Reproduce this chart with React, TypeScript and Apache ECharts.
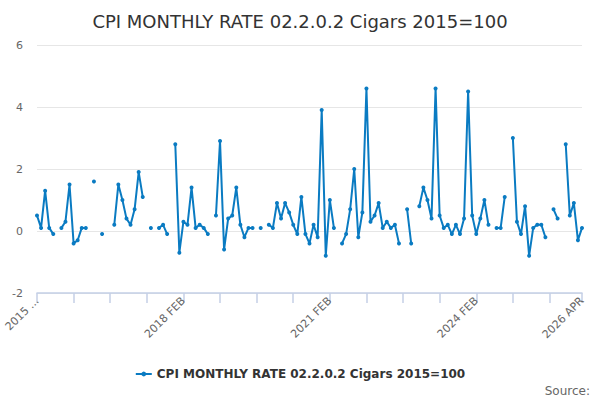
import React, { useEffect, useRef } from "react";
import * as echarts from "echarts";

const TITLE = "CPI MONTHLY RATE 02.2.0.2 Cigars 2015=100";
const SERIES_NAME = "CPI MONTHLY RATE 02.2.0.2 Cigars 2015=100";
const MONTHS = ["JAN", "FEB", "MAR", "APR", "MAY", "JUN", "JUL", "AUG", "SEP", "OCT", "NOV", "DEC"];
const START_YEAR = 2015;
const START_MONTH = 1; // FEB (0-based)

// Monthly rate values, 2015 FEB .. 2026 APR (null = no data)
const values: (number | null)[] = [
  0.5, 0.1, 1.3, 0.1, -0.1, null, 0.1, 0.3, 1.5, -0.4, -0.3, 0.1,
  0.1, null, 1.6, null, -0.1, null, null, 0.2, 1.5, 1.0, 0.4, 0.2,
  0.7, 1.9, 1.1, null, 0.1, null, 0.1, 0.2, -0.1, null, 2.8, -0.7,
  0.3, 0.2, 1.4, 0.1, 0.2, 0.1, -0.1, null, 0.5, 2.9, -0.6, 0.4,
  0.5, 1.4, 0.2, -0.2, 0.1, 0.1, null, 0.1, null, 0.2, 0.1, 0.9,
  0.4, 0.9, 0.6, 0.2, -0.1, 1.1, -0.1, -0.4, 0.2, -0.2, 3.9, -0.8,
  1.0, 0.1, null, -0.4, -0.1, 0.7, 2.0, -0.2, 0.6, 4.6, 0.3, 0.5,
  0.9, 0.1, 0.3, 0.1, 0.2, -0.4, null, 0.7, -0.4, null, 0.8, 1.4,
  1.0, 0.4, 4.6, 0.5, 0.1, 0.2, -0.1, 0.2, -0.1, 0.4, 4.5, 0.5,
  -0.1, 0.4, 1.0, 0.2, null, 0.1, 0.1, 1.1, null, 3.0, 0.3, -0.1,
  0.8, -0.8, 0.1, 0.2, 0.2, -0.2, null, 0.7, 0.4, null, 2.8, 0.5,
  0.9, -0.3, 0.1,
];

const categories: string[] = values.map((_, i) => {
  const m = START_MONTH + i;
  return `${START_YEAR + Math.floor(m / 12)} ${MONTHS[m % 12]}`;
});

const Y_MIN = -2;
const Y_MAX = 6;
const Y_STEP = 2;
const LABEL_EVERY = 36;
const TICK_EVERY = 9;

export default function App() {
  const ref = useRef<HTMLDivElement>(null);
  useEffect(() => {
    if (!ref.current) return;
    const chart = echarts.init(ref.current, undefined, { renderer: "svg" });
    const last = categories.length - 1;
    chart.setOption({
      animation: false,
      backgroundColor: "#ffffff",
      textStyle: { fontFamily: "DejaVu Sans" },
      title: {
        text: TITLE,
        left: "center",
        top: 7,
        textStyle: { fontSize: 18, fontWeight: "normal", color: "#333333", fontFamily: "DejaVu Sans" },
      },
      legend: {
        bottom: 15,
        left: "center",
        itemWidth: 16,
        itemHeight: 6,
        itemGap: 5,
        data: [SERIES_NAME],
        textStyle: { fontSize: 12, fontWeight: "bold", color: "#333333", fontFamily: "DejaVu Sans" },
      },
      graphic: [
        {
          type: "text",
          right: 10,
          bottom: 3,
          style: { text: "Source:", fontSize: 12, fill: "#666666", fontFamily: "DejaVu Sans" },
        },
      ],
      grid: { left: 37, right: 18, top: 45, bottom: 107, containLabel: false },
      xAxis: {
        type: "category",
        data: categories,
        boundaryGap: false,
        axisLine: { show: true, onZero: false, lineStyle: { color: "#c4cfe6", width: 1.5 } },
        axisTick: {
          show: true,
          inside: false,
          length: 10,
          lineStyle: { color: "#c4cfe6", width: 1.5 },
          interval: (idx: number) => idx % TICK_EVERY === 0 || idx === last,
        },
        axisLabel: {
          show: true,
          rotate: 45,
          color: "#666666",
          fontSize: 11,
          margin: 6,
          interval: (idx: number) => idx % LABEL_EVERY === 0 || idx === last,
          formatter: (val: string, idx: number) => (idx === 0 ? val.slice(0, 4) + " ..." : val),
        },
        splitLine: { show: false },
      },
      yAxis: {
        type: "value",
        min: Y_MIN,
        max: Y_MAX,
        interval: Y_STEP,
        axisLine: { show: false },
        axisTick: { show: false },
        axisLabel: { color: "#666666", fontSize: 11, margin: 14 },
        splitLine: { lineStyle: { color: "#e6e6e6" } },
      },
      series: [
        {
          name: SERIES_NAME,
          type: "line",
          data: values,
          connectNulls: false,
          showSymbol: true,
          showAllSymbol: true,
          symbol: "circle",
          symbolSize: 4,
          lineStyle: { width: 2, color: "#0a7bc2" },
          itemStyle: { color: "#0a7bc2" },
        },
      ],
    });
    return () => chart.dispose();
  }, []);
  return <div ref={ref} style={{ position: "fixed", left: 0, top: 0, width: 600, height: 400 }} />;
}
